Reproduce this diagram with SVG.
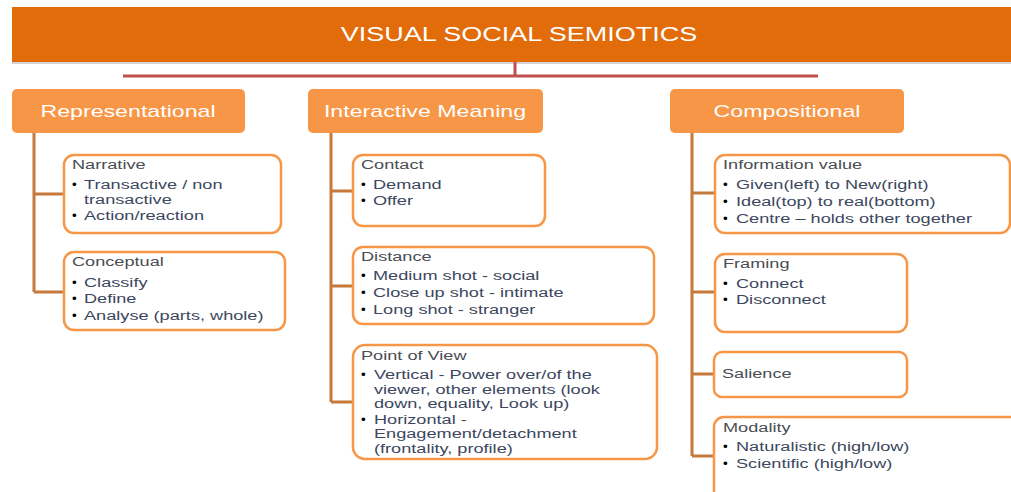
<svg xmlns="http://www.w3.org/2000/svg" width="1011" height="492" viewBox="0 0 1011 492">
<style>
text { font-family: "Liberation Sans", Arial, sans-serif; }
.title { font-size: 20px; fill: #ffffff; }
.hdr { font-size: 16px; fill: #ffffff; }
.h { font-size: 13.5px; fill: #4a4d52; }
.b { font-size: 13.5px; fill: #3c475e; }
.dot { font-size: 13.5px; fill: #000000; }
.card { fill: #ffffff; stroke: #F79646; stroke-width: 2.5; }
.l1 { fill: #F79646; }
.conn { stroke: #C5793A; stroke-width: 3; fill: none; }
.rootconn { stroke: #C0504D; stroke-width: 3; fill: none; }
</style>
<rect width="1011" height="492" fill="#ffffff"/>

<g id="root">
  <rect x="12" y="62" width="1010" height="2" fill="#d4d4d4"/>
  <rect x="12" y="7" width="1010" height="55" fill="#E36C0A"/>
  <text class="title" text-anchor="middle" transform="matrix(1.35 0 0 1 519 40.5)">VISUAL SOCIAL SEMIOTICS</text>
</g>

<g id="connectors">
  <path class="rootconn" d="M515 62 V76 M123 76 H818"/>
  <path class="conn" d="M34 133 V292 M34 194 H64 M34 292 H64"/>
  <path class="conn" d="M331 133 V402 M331 191 H353 M331 286 H353 M331 402 H353"/>
  <path class="conn" d="M692 133 V456 M692 193 H715 M692 292 H715 M692 374 H714 M692 456 H714"/>
</g>

<g id="representational">
  <rect class="l1" x="12" y="89" width="233" height="44" rx="5"/>
  <text class="hdr" text-anchor="middle" transform="matrix(1.45 0 0 1 128 117)">Representational</text>
</g>
<g id="interactive">
  <rect class="l1" x="308" y="89" width="235" height="44" rx="5"/>
  <text class="hdr" text-anchor="middle" transform="matrix(1.45 0 0 1 425 117)">Interactive Meaning</text>
</g>
<g id="compositional">
  <rect class="l1" x="670" y="89" width="234" height="44" rx="5"/>
  <text class="hdr" text-anchor="middle" transform="matrix(1.45 0 0 1 787 117)">Compositional</text>
</g>

<g id="narrative">
  <rect class="card" x="64" y="155" width="217" height="78" rx="10"/>
  <text class="h" transform="matrix(1.345 0 0 1 72 169)">Narrative</text>
  <text class="dot" x="72" y="189">•</text>
  <text class="b" transform="matrix(1.345 0 0 1 84 189)">Transactive / non</text>
  <text class="b" transform="matrix(1.345 0 0 1 84 204)">transactive</text>
  <text class="dot" x="72" y="220">•</text>
  <text class="b" transform="matrix(1.345 0 0 1 84 220)">Action/reaction</text>
</g>
<g id="conceptual">
  <rect class="card" x="64" y="252" width="221" height="78" rx="10"/>
  <text class="h" transform="matrix(1.345 0 0 1 72 266)">Conceptual</text>
  <text class="dot" x="72" y="287">•</text>
  <text class="b" transform="matrix(1.345 0 0 1 84 287)">Classify</text>
  <text class="dot" x="72" y="303">•</text>
  <text class="b" transform="matrix(1.345 0 0 1 84 303)">Define</text>
  <text class="dot" x="72" y="320">•</text>
  <text class="b" transform="matrix(1.345 0 0 1 84 320)">Analyse (parts, whole)</text>
</g>

<g id="contact">
  <rect class="card" x="353" y="155" width="192" height="71" rx="10"/>
  <text class="h" transform="matrix(1.345 0 0 1 361 169)">Contact</text>
  <text class="dot" x="361" y="189">•</text>
  <text class="b" transform="matrix(1.345 0 0 1 373 189)">Demand</text>
  <text class="dot" x="361" y="205">•</text>
  <text class="b" transform="matrix(1.345 0 0 1 373 205)">Offer</text>
</g>
<g id="distance">
  <rect class="card" x="353" y="247" width="301" height="77" rx="10"/>
  <text class="h" transform="matrix(1.345 0 0 1 361 261)">Distance</text>
  <text class="dot" x="361" y="280">•</text>
  <text class="b" transform="matrix(1.345 0 0 1 373 280)">Medium shot - social</text>
  <text class="dot" x="361" y="297">•</text>
  <text class="b" transform="matrix(1.345 0 0 1 373 297)">Close up shot - intimate</text>
  <text class="dot" x="361" y="314">•</text>
  <text class="b" transform="matrix(1.345 0 0 1 373 314)">Long shot - stranger</text>
</g>
<g id="point-of-view">
  <rect class="card" x="353" y="345" width="304" height="114" rx="12"/>
  <text class="h" transform="matrix(1.345 0 0 1 361 360)">Point of View</text>
  <text class="dot" x="361" y="379">•</text>
  <text class="b" transform="matrix(1.345 0 0 1 374 379)">Vertical - Power over/of the</text>
  <text class="b" transform="matrix(1.345 0 0 1 374 394)">viewer, other elements (look</text>
  <text class="b" transform="matrix(1.345 0 0 1 374 408)">down, equality, Look up)</text>
  <text class="dot" x="361" y="424">•</text>
  <text class="b" transform="matrix(1.345 0 0 1 374 424)">Horizontal -</text>
  <text class="b" transform="matrix(1.345 0 0 1 374 438)">Engagement/detachment</text>
  <text class="b" transform="matrix(1.345 0 0 1 374 453)">(frontality, profile)</text>
</g>

<g id="information-value">
  <rect class="card" x="715" y="155" width="295" height="78" rx="10"/>
  <text class="h" transform="matrix(1.345 0 0 1 723 169)">Information value</text>
  <text class="dot" x="723" y="189">•</text>
  <text class="b" transform="matrix(1.345 0 0 1 736 189)">Given(left) to New(right)</text>
  <text class="dot" x="723" y="206">•</text>
  <text class="b" transform="matrix(1.345 0 0 1 736 206)">Ideal(top) to real(bottom)</text>
  <text class="dot" x="723" y="223">•</text>
  <text class="b" transform="matrix(1.345 0 0 1 736 223)">Centre – holds other together</text>
</g>
<g id="framing">
  <rect class="card" x="715" y="254" width="192" height="78" rx="10"/>
  <text class="h" transform="matrix(1.345 0 0 1 723 268)">Framing</text>
  <text class="dot" x="723" y="288">•</text>
  <text class="b" transform="matrix(1.345 0 0 1 736 288)">Connect</text>
  <text class="dot" x="723" y="304">•</text>
  <text class="b" transform="matrix(1.345 0 0 1 736 304)">Disconnect</text>
</g>
<g id="salience">
  <rect class="card" x="714" y="352" width="193" height="45" rx="8"/>
  <text class="h" transform="matrix(1.345 0 0 1 722 378)">Salience</text>
</g>
<g id="modality">
  <rect class="card" x="714" y="417" width="330" height="100" rx="10"/>
  <text class="h" transform="matrix(1.345 0 0 1 723 432)">Modality</text>
  <text class="dot" x="723" y="451">•</text>
  <text class="b" transform="matrix(1.345 0 0 1 736 451)">Naturalistic (high/low)</text>
  <text class="dot" x="723" y="468">•</text>
  <text class="b" transform="matrix(1.345 0 0 1 736 468)">Scientific (high/low)</text>
</g>
</svg>
